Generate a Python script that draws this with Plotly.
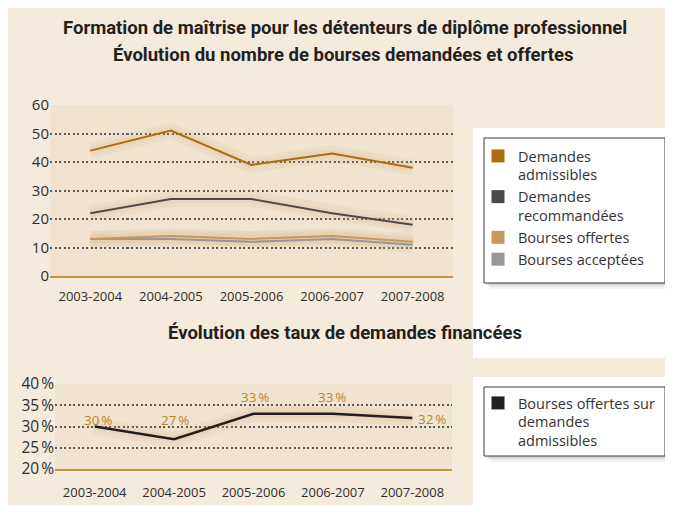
import plotly.graph_objects as go

W, H = 665, 497          # figure size; page body margin puts it at (8, 8)
OX, OY = 8, 8

# ---------------- data ----------------
years = ["2003-2004", "2004-2005", "2005-2006", "2006-2007", "2007-2008"]
demandes_admissibles = [44, 51, 39, 43, 38]
demandes_recommandees = [22, 27, 27, 22, 18]
bourses_offertes = [13, 14, 13, 14, 12]
bourses_acceptees = [13, 13, 12, 13, 11]
taux_finances = [30, 27, 33, 33, 32]

series_names = ["Demandes<br>admissibles", "Demandes<br>recommandées",
                "Bourses offertes", "Bourses acceptées"]
ratio_name = "Bourses offertes sur<br>demandes<br>admissibles"

title1 = "Formation de maîtrise pour les détenteurs de diplôme professionnel"
title2 = "Évolution du nombre de bourses demandées et offertes"
title3 = "Évolution des taux de demandes financées"

# ---------------- styles ----------------
colors = ["#AD6D0A", "#4B4B4D", "#C9975C", "#96979A"]
ratio_color = "#231F20"
label_color = "#BF8628"
page_bg = "#F5EBDD"
plot_bg = "#F0E3D0"
glow = "rgba(214,170,120,0.12)"
tick_font = dict(family="Open Sans, sans-serif", size=13, color="#2E2E2E")
title_font = dict(family="Roboto, sans-serif", size=18.5, color="#231F20", weight=700)
# label offsets (px) for the percentage labels
label_xshift = [3, 1, 1, -1, 20]
label_yshift = [7, 19, 17, 17, -1]


def px(x):
    return (x - OX) / W


def py(y):
    return 1 - (y - OY) / H


fig = go.Figure()

all_series = [demandes_admissibles, demandes_recommandees, bourses_offertes, bourses_acceptees]

# soft glow underlays
for vals in all_series:
    for wdt in (16, 8):
        fig.add_trace(go.Scatter(x=years, y=vals, mode="lines", xaxis="x", yaxis="y",
                                 line=dict(color=glow, width=wdt), showlegend=False,
                                 hoverinfo="skip"))
for wdt in (16, 8):
    fig.add_trace(go.Scatter(x=years, y=taux_finances, mode="lines", xaxis="x2", yaxis="y2",
                             line=dict(color=glow, width=wdt), showlegend=False,
                             hoverinfo="skip"))

# main lines (top chart), back to front
for i in [3, 2, 1, 0]:
    fig.add_trace(go.Scatter(x=years, y=all_series[i], mode="lines", xaxis="x", yaxis="y",
                             line=dict(color=colors[i], width=2), showlegend=False,
                             name=series_names[i].replace("<br>", " ")))

# legend entries (square swatches)
for i in range(4):
    fig.add_trace(go.Scatter(x=[None], y=[None], mode="markers", xaxis="x", yaxis="y",
                             marker=dict(symbol="square", size=13, color=colors[i]),
                             name=series_names[i], legend="legend", showlegend=True))

# ratio chart
fig.add_trace(go.Scatter(x=years, y=taux_finances, mode="lines", xaxis="x2", yaxis="y2",
                         line=dict(color=ratio_color, width=2.5), showlegend=False))
fig.add_trace(go.Scatter(x=[None], y=[None], mode="markers", xaxis="x2", yaxis="y2",
                         marker=dict(symbol="square", size=13, color=ratio_color),
                         name=ratio_name, legend="legend2", showlegend=True))

# ---------------- shapes ----------------
shapes = [
    dict(type="rect", xref="paper", yref="paper", x0=px(473), x1=1, y0=py(358), y1=py(128),
         fillcolor="white", line_width=0, layer="below"),
    dict(type="rect", xref="paper", yref="paper", x0=px(473), x1=1, y0=0, y1=py(377),
         fillcolor="white", line_width=0, layer="below"),
]
for (x0, y0, x1, y1) in [(484, 138, 665, 283), (484, 387, 665, 456)]:
    for off, a in [(6, 0.04), (4, 0.06), (2, 0.08)]:
        shapes.append(dict(type="rect", xref="paper", yref="paper",
                           x0=px(x0 + off), x1=px(x1 + off), y0=py(y1 + off), y1=py(y0 + off),
                           fillcolor=f"rgba(0,0,0,{a})", line_width=0, layer="below"))
    shapes.append(dict(type="rect", xref="paper", yref="paper",
                       x0=px(x0), x1=px(x1), y0=py(y1), y1=py(y0),
                       fillcolor="white", line=dict(color="#3A3A3A", width=1), layer="below"))

annotations = [
    dict(text=title1, x=px(345), y=py(28), xref="paper", yref="paper", showarrow=False,
         font=title_font, xanchor="center", yanchor="middle"),
    dict(text=title2, x=px(343), y=py(55), xref="paper", yref="paper", showarrow=False,
         font=title_font, xanchor="center", yanchor="middle"),
    dict(text=title3, x=px(345), y=py(333), xref="paper", yref="paper", showarrow=False,
         font=title_font, xanchor="center", yanchor="middle"),
]
for i, v in enumerate(taux_finances):
    annotations.append(dict(text=f"{v}\u202f%", x=years[i], y=v, xref="x2", yref="y2",
                            showarrow=False, xanchor="center", yanchor="middle",
                            xshift=label_xshift[i], yshift=label_yshift[i],
                            font=dict(family="Open Sans, sans-serif", size=13.5,
                                      color=label_color)))

grid = dict(showgrid=True, gridcolor="#5A5A5A", gridwidth=1.5, griddash="2px,2.5px",
            zeroline=False, ticks="", showline=False, fixedrange=True, automargin=False)
xcommon = dict(type="category", range=[-0.5, 4.5], showgrid=False, zeroline=False,
               showline=True, linecolor="#C8953F", linewidth=1.5, ticks="",
               tickfont=tick_font, fixedrange=True, automargin=False)

fig.update_layout(
    width=W, height=H,
    margin=dict(l=0, r=0, t=0, b=0, pad=0, autoexpand=False),
    paper_bgcolor=page_bg,
    plot_bgcolor=plot_bg,
    shapes=shapes,
    annotations=annotations,
    xaxis=dict(domain=[px(50), px(453)], anchor="y", ticklabelstandoff=8, **xcommon),
    yaxis=dict(domain=[py(276), py(105)], anchor="x", range=[0, 60], dtick=10,
               tickfont=dict(family="Open Sans, sans-serif", size=15, color="#2E2E2E"),
               **grid),
    xaxis2=dict(domain=[px(55), px(452)], anchor="y2", ticklabelstandoff=11, **xcommon),
    yaxis2=dict(domain=[py(469), py(384)], anchor="x2", range=[20, 40], dtick=5,
                ticksuffix="\u202f%",
                tickfont=dict(family="Open Sans, sans-serif", size=15.5, color="#2E2E2E"),
                **grid),
    legend=dict(x=px(478), y=py(140), xanchor="left", yanchor="top",
                bgcolor="rgba(0,0,0,0)", borderwidth=0, valign="top",
                font=dict(family="Open Sans, sans-serif", size=14.5, color="#333333"),
                tracegroupgap=0),
    legend2=dict(x=px(478), y=py(387), xanchor="left", yanchor="top",
                 bgcolor="rgba(0,0,0,0)", borderwidth=0, valign="top",
                 font=dict(family="Open Sans, sans-serif", size=14.5, color="#333333")),
    hovermode=False,
)

fig.write_html("out.html")
